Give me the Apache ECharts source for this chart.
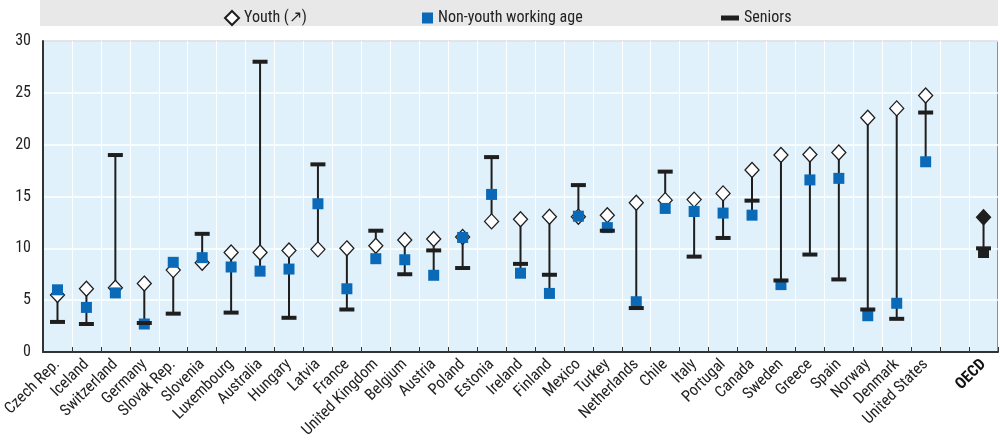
<!DOCTYPE html>
<html><head><meta charset="utf-8">
<script src="https://cdn.jsdelivr.net/npm/echarts@6/dist/echarts.min.js"></script>
<style>html,body{margin:0;padding:0;background:#fff}#c{width:1000px;height:445px}</style>
</head><body><div id="c"></div>
<script>
const categories = ['Czech Rep.','Iceland','Switzerland','Germany','Slovak Rep.','Slovenia','Luxembourg','Australia','Hungary','Latvia','France','United Kingdom','Belgium','Austria','Poland','Estonia','Ireland','Finland','Mexico','Turkey','Netherlands','Chile','Italy','Portugal','Canada','Sweden','Greece','Spain','Norway','Denmark','United States','','OECD'];
const youth = [5.5,6.1,6.2,6.6,7.9,8.6,9.6,9.6,9.8,9.9,10.0,10.25,10.8,10.9,11.1,12.6,12.8,13.05,13.05,13.2,14.4,14.65,14.7,15.3,17.55,19.0,19.05,19.25,22.6,23.5,24.75,null,13.0];
const nonYouth = [6.0,4.3,5.7,2.7,8.65,9.1,8.2,7.8,8.0,14.3,6.1,9.0,8.9,7.4,11.05,15.2,7.6,5.65,13.1,12.0,4.85,13.85,13.55,13.4,13.2,6.5,16.6,16.75,3.5,4.7,18.35,null,9.6];
const seniors = [2.9,2.7,19.0,2.8,3.7,11.4,3.8,28.0,3.3,18.1,4.1,11.7,7.5,9.8,8.1,18.8,8.5,7.45,16.1,11.7,4.24,17.4,9.2,11.0,14.6,6.9,9.4,7.0,4.1,3.2,23.1,null,10.0];
const yTicks = [0,5,10,15,20,25,30];

const FONT = "'Liberation Sans Narrow','Arial Narrow','Roboto Condensed',Roboto,sans-serif";
const DARK = '#1e1e1e';
const BLUE = '#0b6ab7';

const rangeData = [];
categories.forEach((c,i)=>{
  const vals=[youth[i],nonYouth[i],seniors[i]].filter(v=>v!=null);
  if(vals.length) rangeData.push([i, Math.min(...vals), Math.max(...vals)]);
});
const mk = (arr, special) => arr.map((v,i)=> v==null ? '-' : (categories[i]==='OECD' ? {value:v, itemStyle:special} : v));

const chart = echarts.init(document.getElementById('c'), null, {renderer:'canvas'});
chart.setOption({
  animation:false,
  textStyle:{fontFamily:FONT},
  graphic:[{type:'rect', shape:{x:40,y:0,width:958,height:26}, style:{fill:'#e8e8e8'}, z:-1}],
  legend:[
    {data:['Youth (↗)'], left:219, top:5, itemWidth:14, itemHeight:14, textStyle:{fontFamily:FONT,fontSize:16,color:'#222'}},
    {data:['Non-youth working age'], left:417, top:5, itemWidth:11, itemHeight:11, textStyle:{fontFamily:FONT,fontSize:16,color:'#222'}},
    {data:['Seniors'], left:716, top:5, itemWidth:18, itemHeight:5, textStyle:{fontFamily:FONT,fontSize:16,color:'#222'}}
  ],
  grid:{left:40,right:2,top:41,bottom:93,show:true,backgroundColor:'#e0f1fb',borderColor:'#333',borderWidth:1},
  xAxis:{type:'category',data:categories,boundaryGap:true,
    axisLine:{show:true,lineStyle:{color:'#333',width:2}},
    axisTick:{show:true,inside:true,length:5,interval:0,lineStyle:{color:'#333'}},
    splitLine:{show:true,interval:0,lineStyle:{color:'#ffffff',width:1}},
    axisLabel:{interval:0,rotate:45,fontSize:16,color:'#222',margin:10,fontFamily:FONT,
      formatter:v=> v==='OECD' ? '{b|OECD}' : v,
      rich:{b:{fontWeight:'bold',fontSize:16,fontFamily:FONT,color:'#111'}}}
  },
  yAxis:{type:'value',min:0,max:30,interval:5,
    axisLine:{show:true,lineStyle:{color:'#333',width:2}},
    axisTick:{show:false},
    splitLine:{show:true,lineStyle:{color:'#ffffff',width:1.5}},
    axisLabel:{fontSize:16,color:'#222',margin:12,fontFamily:FONT,
      formatter:v=> yTicks.includes(v) ? String(v) : ''}
  },
  series:[
    {type:'custom', name:'range', silent:true, z:2,
      renderItem:(params,api)=>{
        const p1=api.coord([api.value(0),api.value(1)]);
        const p2=api.coord([api.value(0),api.value(2)]);
        return {type:'line',shape:{x1:p1[0],y1:p1[1],x2:p2[0],y2:p2[1]},style:{stroke:DARK,lineWidth:2}};
      },
      encode:{x:0,y:[1,2]}, data:rangeData},
    {type:'scatter', name:'Youth (↗)', z:3, symbol:'diamond', symbolSize:[14,15],
      itemStyle:{color:'#ffffff',borderColor:DARK,borderWidth:1.3,opacity:1},
      data:mk(youth,{color:DARK,borderColor:DARK})},
    {type:'scatter', name:'Non-youth working age', z:4, symbol:'rect', symbolSize:11,
      itemStyle:{color:BLUE,opacity:1},
      data:mk(nonYouth,{color:DARK})},
    {type:'scatter', name:'Seniors', z:5, symbol:'rect', symbolSize:[15,4],
      itemStyle:{color:DARK,opacity:1},
      data:mk(seniors,{color:DARK})}
  ]
});
</script></body></html>
